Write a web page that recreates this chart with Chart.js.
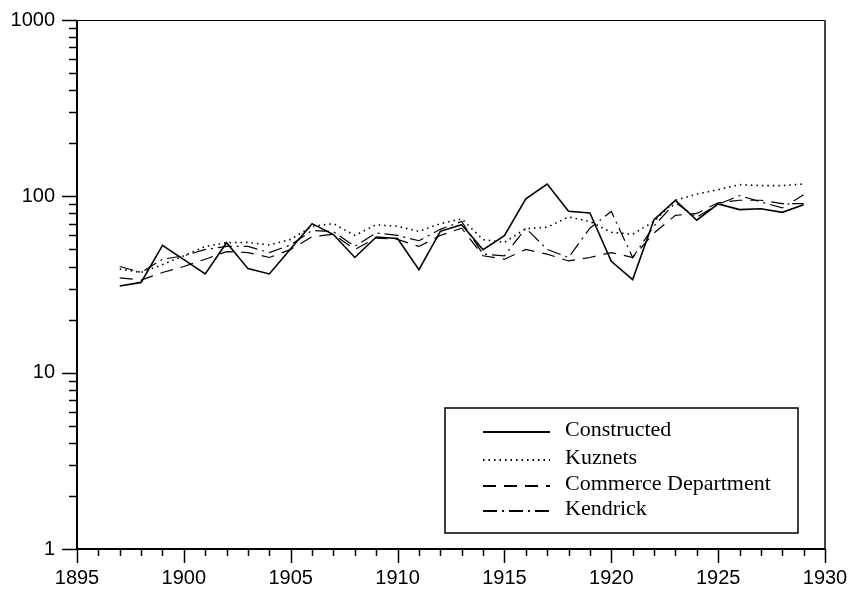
<!DOCTYPE html>
<html>
<head>
<meta charset="utf-8">
<script src="https://cdn.jsdelivr.net/npm/chart.js@4.4.1/dist/chart.umd.min.js"></script>
<style>
  html, body { margin: 0; padding: 0; background: #fff; }
  #wrap { width: 854px; height: 595px; position: relative; }
</style>
</head>
<body>
<div id="wrap"><canvas id="c"></canvas></div>
<script>
// ---- data (log scale, 1897-1929) ----
const years = [1897, 1898, 1899, 1900, 1901, 1902, 1903, 1904, 1905, 1906, 1907,
               1908, 1909, 1910, 1911, 1912, 1913, 1914, 1915, 1916, 1917, 1918,
               1919, 1920, 1921, 1922, 1923, 1924, 1925, 1926, 1927, 1928, 1929];

const constructed = [31, 32.5, 52.7, 43.8, 36.3, 54.6, 38.9, 36.3, 50.4, 70, 60.7,
                     45, 58.8, 57.7, 38.4, 63.3, 69.1, 49.8, 59.8, 96.7, 117.5, 82.2,
                     80.5, 42.8, 33.7, 73.8, 94.9, 73.2, 90.6, 84.1, 85.1, 81.1, 89.7];

const kuznets = [38.7, 37, 41, 46, 52, 54.6, 54.8, 53, 57, 67.6, 70,
                 60, 69, 67.6, 63.3, 70, 74.5, 56.8, 54.8, 65.6, 66.8, 76.4,
                 72, 62.5, 61, 72, 95, 103, 109, 116.5, 115, 115, 117.5];

const commerce = [34.5, 33.5, 37, 40, 44, 48.6, 48, 45, 50, 59, 61,
                  50, 58, 57, 52, 60, 66, 46, 44, 50, 47, 43,
                  45, 48, 45, 62, 78, 80, 92, 95, 95, 91, 91];

const kendrick = [40, 37, 44, 46, 50, 52, 52, 48, 53, 64, 63,
                  52, 62, 60, 56, 65, 72, 47, 46, 66, 50, 45,
                  66, 82, 45, 68, 92, 76, 90, 101, 93, 86, 102];

const xTickYears = [1895, 1900, 1905, 1910, 1915, 1920, 1925, 1930];
const yTickValues = [1, 10, 100, 1000];

const seriesNames = ['Constructed', 'Kuznets', 'Commerce Department', 'Kendrick'];

// ---- helpers ----
function pts(vals) {
  return years.map((yr, i) => ({ x: yr, y: vals[i] }));
}

function lineDs(label, vals, dash, width) {
  return {
    label: label,
    data: pts(vals),
    borderColor: '#000',
    borderWidth: width,
    borderDash: dash,
    pointRadius: 0,
    fill: false,
    tension: 0,
  };
}

// keep the plot box where the original has it (no label overflow padding)
function noPad(s) {
  s.paddingTop = 0;
  s.paddingBottom = 0;
  s.paddingLeft = 0;
  s.paddingRight = 0;
}

// axes, ticks, frame and the boxed legend, drawn like the original plot
const framePlugin = {
  id: 'frame',
  afterDatasetsDraw(chart) {
    const ctx = chart.ctx;
    const a = chart.chartArea;
    const xs = chart.scales.x;
    const ys = chart.scales.y;
    ctx.save();
    ctx.setLineDash([]);
    ctx.strokeStyle = '#000';

    // top + right border
    ctx.lineWidth = 1;
    ctx.beginPath();
    ctx.moveTo(a.left, a.top + 0.5);
    ctx.lineTo(a.right, a.top + 0.5);
    ctx.stroke();
    ctx.strokeStyle = '#444';
    ctx.lineWidth = 2;
    ctx.beginPath();
    ctx.moveTo(a.right, a.top);
    ctx.lineTo(a.right, a.bottom);
    ctx.stroke();

    // left + bottom axes
    ctx.strokeStyle = '#000';
    ctx.lineWidth = 2;
    ctx.beginPath();
    ctx.moveTo(a.left, a.top);
    ctx.lineTo(a.left, a.bottom);
    ctx.lineTo(a.right, a.bottom);
    ctx.stroke();

    // x ticks: each year, longer every 5
    ctx.lineWidth = 1.5;
    for (let yr = 1895; yr <= 1930; yr++) {
      const px = Math.round(xs.getPixelForValue(yr)) + 0.5;
      const len = yr % 5 === 0 ? 14 : 7;
      ctx.beginPath();
      ctx.moveTo(px, a.bottom);
      ctx.lineTo(px, a.bottom + len);
      ctx.stroke();
    }

    // y ticks: decades long, 2..9 short
    for (let d = 1; d <= 1000; d *= 10) {
      for (let m = 1; m <= 9; m++) {
        const v = d * m;
        if (v > 1000) break;
        const py = Math.round(ys.getPixelForValue(v)) + 0.5;
        const len = m === 1 ? 15 : 8;
        ctx.beginPath();
        ctx.moveTo(a.left - len, py);
        ctx.lineTo(a.left, py);
        ctx.stroke();
      }
    }

    // legend box
    const bx = 445, by = 408, bw = 353, bh = 125;
    ctx.fillStyle = '#fff';
    ctx.fillRect(bx, by, bw, bh);
    ctx.lineWidth = 1.5;
    ctx.strokeStyle = '#000';
    ctx.strokeRect(bx, by, bw, bh);

    const rowsY = [432, 460, 486, 511];
    ctx.font = '22px "Liberation Serif", "Times New Roman", serif';
    ctx.textBaseline = 'middle';
    ctx.fillStyle = '#000';
    chart.data.datasets.forEach((ds, i) => {
      ctx.setLineDash(ds.borderDash || []);
      ctx.lineWidth = 1.8;
      ctx.beginPath();
      ctx.moveTo(483, rowsY[i]);
      ctx.lineTo(550, rowsY[i]);
      ctx.stroke();
      ctx.setLineDash([]);
      ctx.fillText(ds.label, 565, rowsY[i] - 2);
    });

    ctx.restore();
  }
};

new Chart(document.getElementById('c'), {
  type: 'line',
  data: {
    datasets: [
      lineDs(seriesNames[0], constructed, [], 1.6),
      lineDs(seriesNames[1], kuznets, [1.5, 4], 1.6),
      lineDs(seriesNames[2], commerce, [13, 8], 1.2),
      lineDs(seriesNames[3], kendrick, [14, 5, 2, 5], 1.2),
    ]
  },
  options: {
    responsive: true,
    maintainAspectRatio: false,
    animation: false,
    layout: { padding: { left: 0, right: 29, top: 20, bottom: 0 } },
    plugins: {
      legend: { display: false },
      tooltip: { enabled: false },
    },
    scales: {
      x: {
        type: 'linear',
        min: 1895,
        max: 1930,
        grid: { display: false },
        border: { display: false },
        afterBuildTicks: s => { s.ticks = xTickYears.map(v => ({ value: v })); },
        afterFit: s => { s.height = 46; noPad(s); },
        ticks: {
          padding: 9,
          maxRotation: 0,
          color: '#000',
          font: { family: '"Liberation Sans", Arial, sans-serif', size: 20 },
          callback: v => String(v),
        },
      },
      y: {
        type: 'logarithmic',
        min: 1,
        max: 1000,
        grid: { display: false },
        border: { display: false },
        afterBuildTicks: s => { s.ticks = yTickValues.map(v => ({ value: v })); },
        afterFit: s => { s.width = 77; noPad(s); },
        ticks: {
          padding: 14,
          color: '#000',
          font: { family: '"Liberation Sans", Arial, sans-serif', size: 20 },
          callback: v => String(v),
        },
      },
    },
  },
  plugins: [framePlugin],
});
</script>
</body>
</html>
